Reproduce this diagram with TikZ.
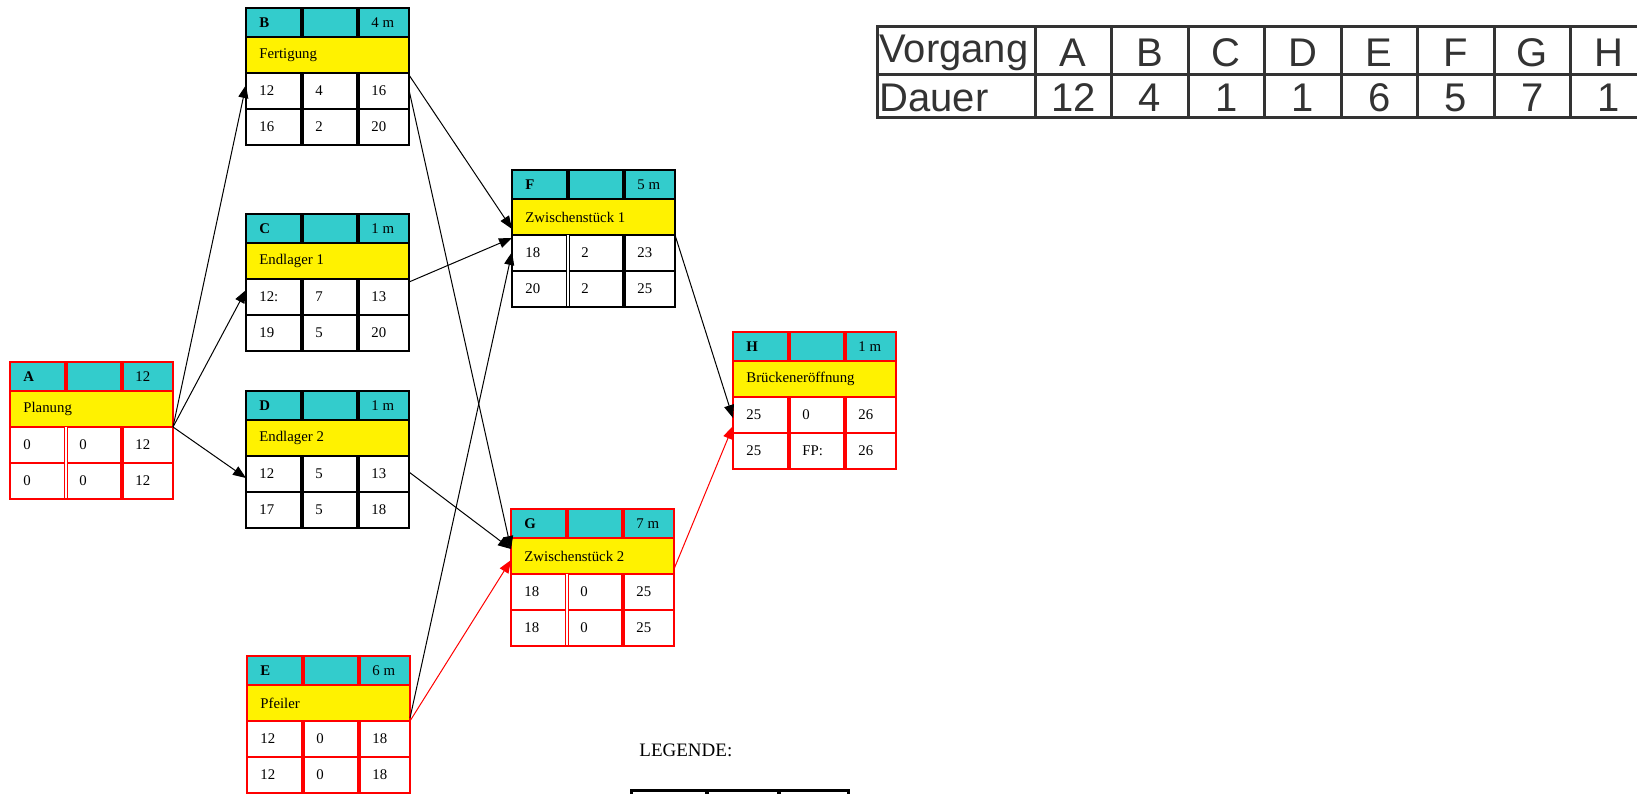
\documentclass[tikz,border=0pt]{standalone}
\usepackage{fontspec}
\setmainfont{Liberation Serif}
\newfontfamily\tabfont{Liberation Sans}
\usetikzlibrary{calc}
\usetikzlibrary{arrows.meta}
\definecolor{kopfcyan}{rgb}{0.2,0.8,0.8}
\definecolor{tabgrau}{rgb}{0.2,0.2,0.2}

\tikzset{
  wert/.style={anchor=west, inner sep=0pt, font=\fontsize{7.4}{8}\selectfont},
  kennung/.style={wert, font=\fontsize{7.4}{8}\selectfont\bfseries},
  dick/.style={line width=2pt},
  doppelt/.style={line width=0.4pt, double, double distance=1.4pt},
  pfeil/.style={-{Triangle[length=6.5pt,width=5pt]}, line width=0.5pt},
  kritisch/.style={pfeil, red},
  tabtext/.style={inner sep=0pt, text=tabgrau, font=\tabfont\fontsize{20}{22}\selectfont}
}

% #1 name, #2 position, #3 colour, #4 letter, #5 duration, #6 title,
% #7 first row, #8 second row, #9 style of first divider in the rows
\newcommand{\vorgang}[9]{%
  \begin{scope}[shift={#2}]
    \fill[kopfcyan] (0, 0) rectangle (163, 29);
    \fill[yellow]   (0, 29) rectangle (163, 65);
    \fill[white]    (0, 65) rectangle (163, 137);
    \draw[#3, line width=0.6pt] (0, 29) -- +(163, 0);
    \draw[#3, line width=0.6pt] (0, 65) -- +(163, 0);
    \draw[#3, line width=0.6pt] (0, 101) -- +(163, 0);
    \draw[#3, dick] (56, 0) -- +(0, 29);
    \draw[#3, dick] (112, 0) -- +(0, 29);
    \draw[#3, dick] (112, 65) -- +(0, 72);
    \draw[#3, #9] (56, 65) -- +(0, 72);
    \draw[#3, line width=1.2pt] (0, 0) rectangle (163, 137);
    \coordinate (#1-ein) at (0, 65);
    \coordinate (#1-aus) at (163, 65);
    \node[kennung] (#1-nr) at (13, 15) {#4};
    \node[wert] (#1-d) at (125, 15) {#5};
    \node[wert] (#1-t) at (13, 47) {#6};
    \foreach \w [count=\k from 0] in {#7} {
      \node[wert] (#1-a\k) at ({13+56*\k}, 83) {\w};
    }
    \foreach \w [count=\k from 0] in {#8} {
      \node[wert] (#1-b\k) at ({13+56*\k}, 119) {\w};
    }
  \end{scope}}

\begin{document}
\begin{tikzpicture}[x=0.5pt, y=-0.5pt]
    \useasboundingbox (0, 0) rectangle (1637, 793);
    \clip (0, 0) rectangle (1637, 793);

    \vorgang{A}{(10, 362)}{red}{A}{12}{Planung}{0,0,12}{0,0,12}{doppelt}
    \vorgang{B}{(246, 8)}{black}{B}{4 m}{Fertigung}{12,4,16}{16,2,20}{dick}
    \vorgang{C}{(246, 214)}{black}{C}{1 m}{Endlager 1}{12:,7,13}{19,5,20}{dick}
    \vorgang{D}{(246, 391)}{black}{D}{1 m}{Endlager 2}{12,5,13}{17,5,18}{dick}
    \vorgang{E}{(247, 656)}{red}{E}{6 m}{Pfeiler}{12,0,18}{12,0,18}{dick}
    \vorgang{F}{(512, 170)}{black}{F}{5 m}{Zwischenstück 1}{18,2,23}{20,2,25}{doppelt}
    \vorgang{G}{(511, 509)}{red}{G}{7 m}{Zwischenstück 2}{18,0,25}{18,0,25}{doppelt}
    \vorgang{H}{(733, 332)}{red}{H}{1 m}{Brückeneröffnung}{25,0,26}{25,FP:,26}{dick}

    % connectors
    \draw[pfeil] (A-aus) -- ($(B-ein)+(0, 12)$);
    \draw[pfeil] (A-aus) -- ($(C-ein)+(0, 11)$);
    \draw[pfeil] (A-aus) -- ($(D-ein)+(0, 22)$);
    \draw[pfeil] ($(B-aus)+(0, 2)$) -- ($(F-ein)+(0, -6)$);
    \draw[pfeil] ($(B-aus)+(0, 17)$) -- ($(G-ein)+(0, -25)$);
    \draw[pfeil] ($(C-aus)+(0, 3)$) -- ($(F-ein)+(0, 3)$);
    \draw[pfeil] ($(D-aus)+(0, 16)$) -- ($(G-ein)+(0, -25)$);
    \draw[pfeil] ($(E-aus)+(0, -3)$) -- ($(F-ein)+(0, 17)$);
    \draw[kritisch] (E-aus) -- ($(G-ein)+(0, -14)$);
    \draw[pfeil] (F-aus) -- ($(H-ein)+(0, 21)$);
    \draw[kritisch] ($(G-aus)+(0, -5)$) -- ($(H-ein)+(0, 29)$);

    % table of durations
    \begin{scope}[tabgrau, line width=1.5pt]
      \draw (877, 26) rectangle (1646, 117);
      \draw (877, 74) -- (1646, 74);
      \draw (1035, 26) -- (1035, 117);
      \foreach \i in {1, 2, ..., 7} {
        \draw ({1035+76.5*\i}, 26) -- +(0, 91);
      }
    \end{scope}
    \node[tabtext, anchor=west] (vorgang) at (879, 53) {Vorgang};
    \node[tabtext, anchor=west] (dauer) at (879, 98) {Dauer};
    \foreach \v/\d [count=\i from 0] in {A/12, B/4, C/1, D/1, E/6, F/5, G/7, H/1} {
      \node[tabtext] (v-\v) at ({1073.25+76.5*\i}, 53) {\v};
      \node[tabtext] (d-\v) at ({1073.25+76.5*\i}, 98) {\d};
    }

    % legend
    \node[anchor=west, inner sep=0pt, font=\fontsize{9.5}{11}\selectfont] (legende) at (639, 750) {LEGENDE:};
    \draw[line width=1.5pt] (631, 790) rectangle (848, 830);
    \draw[dick] (707, 790) -- +(0, 40);
    \draw[dick] (779, 790) -- +(0, 40);
\end{tikzpicture}
\end{document}
